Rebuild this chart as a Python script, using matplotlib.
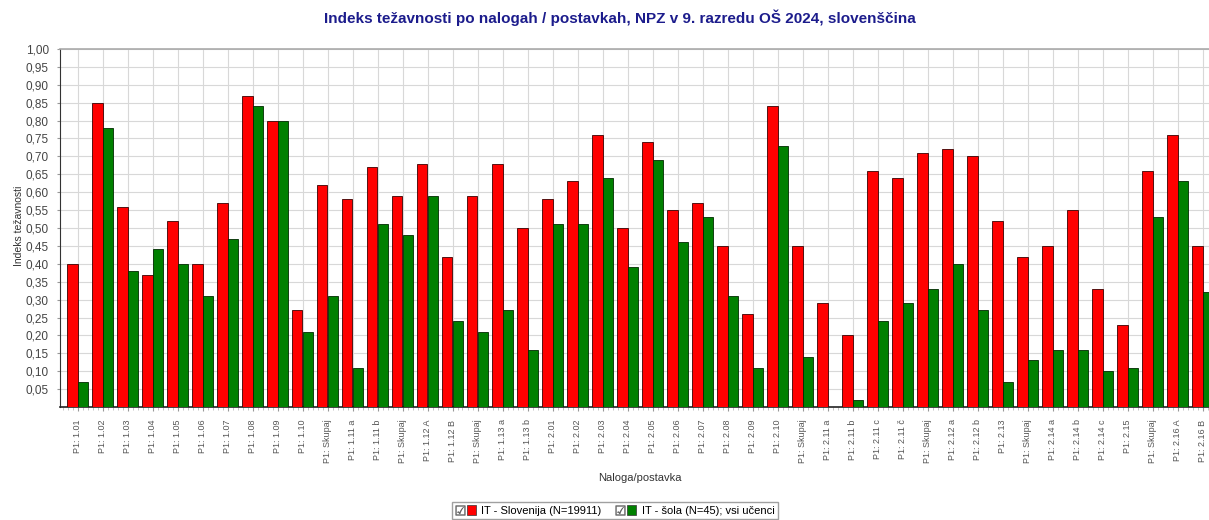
import numpy as np
import matplotlib
matplotlib.use("Agg")
import matplotlib.pyplot as plt
from matplotlib.patches import Patch
from matplotlib.lines import Line2D
from matplotlib.legend_handler import HandlerTuple
from matplotlib.ticker import MultipleLocator

plt.rcParams['font.family'] = ['Liberation Sans', 'DejaVu Sans']

# naloge / postavke
postavke = [
    "P1: 1.01", "P1: 1.02", "P1: 1.03", "P1: 1.04", "P1: 1.05", "P1: 1.06",
    "P1: 1.07", "P1: 1.08", "P1: 1.09", "P1: 1.10", "P1: Skupaj",
    "P1: 1.11 a", "P1: 1.11 b", "P1: Skupaj", "P1: 1.12 A", "P1: 1.12 B",
    "P1: Skupaj", "P1: 1.13 a", "P1: 1.13 b", "P1: 2.01", "P1: 2.02",
    "P1: 2.03", "P1: 2.04", "P1: 2.05", "P1: 2.06", "P1: 2.07", "P1: 2.08",
    "P1: 2.09", "P1: 2.10", "P1: Skupaj", "P1: 2.11 a", "P1: 2.11 b",
    "P1: 2.11 c", "P1: 2.11 č", "P1: Skupaj", "P1: 2.12 a", "P1: 2.12 b",
    "P1: 2.13", "P1: Skupaj", "P1: 2.14 a", "P1: 2.14 b", "P1: 2.14 c",
    "P1: 2.15", "P1: Skupaj", "P1: 2.16 A", "P1: 2.16 B",
]

# indeks tezavnosti - Slovenija
it_slovenija = [
    0.40, 0.85, 0.56, 0.37, 0.52, 0.40, 0.57, 0.87, 0.80, 0.27, 0.62,
    0.58, 0.67, 0.59, 0.68, 0.42, 0.59, 0.68, 0.50, 0.58, 0.63, 0.76,
    0.50, 0.74, 0.55, 0.57, 0.45, 0.26, 0.84, 0.45, 0.29, 0.20, 0.66,
    0.64, 0.71, 0.72, 0.70, 0.52, 0.42, 0.45, 0.55, 0.33, 0.23, 0.66,
    0.76, 0.45,
]

# indeks tezavnosti - sola
it_sola = [
    0.07, 0.78, 0.38, 0.44, 0.40, 0.31, 0.47, 0.84, 0.80, 0.21, 0.31,
    0.11, 0.51, 0.48, 0.59, 0.24, 0.21, 0.27, 0.16, 0.51, 0.51, 0.64,
    0.39, 0.69, 0.46, 0.53, 0.31, 0.11, 0.73, 0.14, 0.00, 0.02, 0.24,
    0.29, 0.33, 0.40, 0.27, 0.07, 0.13, 0.16, 0.16, 0.10, 0.11, 0.53,
    0.63, 0.32,
]

label_slo = "IT - Slovenija (N=19911)"
label_sola = "IT - šola (N=45); vsi učenci"

W, H = 1209, 520
fig = plt.figure(figsize=(W / 100, H / 100), dpi=100)
ax = fig.add_axes([60 / W, 1 - 407 / H, 1 - 60 / W, (407 - 49) / H])

x = np.arange(len(postavke))
w = 0.42
ax.bar(x - w / 2, it_slovenija, width=w, color='#ff0000', edgecolor='#3a0000', linewidth=0.6, zorder=3)
ax.bar(x + w / 2, it_sola, width=w, color='#008000', edgecolor='#002a00', linewidth=0.6, zorder=3)

ax.set_xlim(-0.7, (W - 77.5) / 25)
ax.set_ylim(0, 1.0)

# mreza in oznake osi
yt = np.arange(0.05, 1.001, 0.05)
ax.set_xticks(x)
ax.set_xticklabels(postavke, rotation=90, fontsize=6.5, color='#555555')
ax.xaxis.set_minor_locator(MultipleLocator(0.2))
ax.set_yticks(yt)
ax.set_yticklabels([f"{v:.2f}".replace('.', ',') for v in yt], fontsize=8.5, color='#444444')
ax.grid(True, which='major', color='#d8d8d8', linewidth=0.8, zorder=0)
ax.tick_params(axis='x', which='major', length=3, color='#999999', pad=6)
ax.tick_params(axis='x', which='minor', length=2, color='#bbbbbb')
ax.tick_params(axis='y', length=2, color='#999999', pad=6)

ax.spines['left'].set_color('#333333')
ax.spines['bottom'].set_color('#222222')
ax.spines['bottom'].set_linewidth(1.2)
ax.spines['top'].set_color('#aaaaaa')
ax.spines['top'].set_linewidth(1.2)
ax.spines['right'].set_visible(False)

fig.text(19 / W, 1 - 226 / H, "Indeks težavnosti", rotation=90, ha='center', va='center',
         fontsize=7.5, color='#333333')
fig.text(640 / W, 1 - 478 / H, "Naloga/postavka", ha='center', va='center',
         fontsize=8, color='#333333')
fig.text(620 / W, 1 - 18 / H,
         "Indeks težavnosti po nalogah / postavkah, NPZ v 9. razredu OŠ 2024, slovenščina",
         ha='center', va='center', fontsize=11, fontweight='bold', color='#1c1c8c')

# legenda s potrditvenimi polji
chk = Line2D([], [], linestyle='none', marker='$\u2611$', markersize=7,
             color='#555555', markeredgewidth=0.3)
h_slo = Patch(facecolor='#ff0000', edgecolor='#333333', linewidth=0.5)
h_sola = Patch(facecolor='#008000', edgecolor='#333333', linewidth=0.5)
fig.legend([(chk, h_slo), (chk, h_sola)], [label_slo, label_sola],
           handler_map={tuple: HandlerTuple(ndivide=None, pad=0.2)},
           loc='upper center', bbox_to_anchor=(615 / W, 1 - 502 / H),
           ncol=2, fontsize=8, frameon=True, fancybox=False, edgecolor='#888888',
           handlelength=1.8, handleheight=0.9, handletextpad=0.5, columnspacing=1.3,
           borderpad=0.3, borderaxespad=0)

fig.savefig("out.png", dpi=100)
